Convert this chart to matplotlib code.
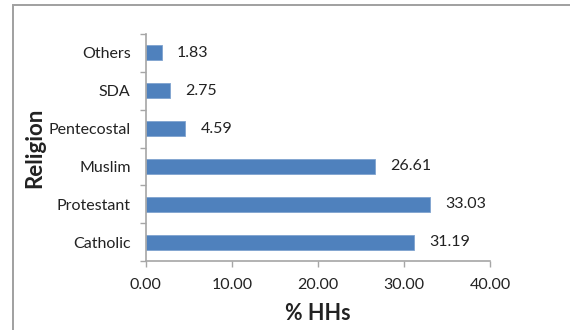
import matplotlib.pyplot as plt
from matplotlib.patches import Rectangle

religions = ['Catholic', 'Protestant', 'Muslim', 'Pentecostal', 'SDA', 'Others']
pct_hhs = [31.19, 33.03, 26.61, 4.59, 2.75, 1.83]
x_ticks = [0, 10, 20, 30, 40]

plt.rcParams['font.family'] = ['Lato', 'DejaVu Sans']
axis_grey = '#a6a6a6'
bar_blue = '#4f81bd'
text_col = '#222222'

fig = plt.figure(figsize=(5.7, 3.3), dpi=100)
ax = fig.add_axes([0.256, 0.209, 0.604, 0.688])

# chart area border, running off the right and bottom edges
fig.patches.append(Rectangle((0.0228, -0.1), 1.2, 1.085, transform=fig.transFigure,
                             fill=False, edgecolor='#a0a0a0', linewidth=1.4))

y = range(len(religions))
ax.barh(y, pct_hhs, height=0.4, color=bar_blue, edgecolor='#7fa3cf', linewidth=0.6)

for yi, v in zip(y, pct_hhs):
    ax.annotate(f'{v:.2f}', (v, yi), xytext=(11, 0), textcoords='offset points',
                va='center', ha='left', fontsize=11.5, color=text_col)

ax.set_xlim(0, 40)
ax.set_ylim(-0.5, len(religions) - 0.5)
ax.set_xticks(x_ticks)
ax.set_xticklabels([f'{t:.2f}' for t in x_ticks])
ax.set_yticks(y)
ax.set_yticklabels(religions)
ax.set_yticks([i - 0.5 for i in range(len(religions) + 1)], minor=True)

ax.tick_params(axis='y', which='major', length=0, pad=11, labelsize=11.5, labelcolor=text_col)
ax.tick_params(axis='y', which='minor', length=4, width=1, color=axis_grey, direction='out')
ax.tick_params(axis='x', length=4, width=1, color=axis_grey, direction='out',
               pad=8, labelsize=11.5, labelcolor=text_col)

for side in ['top', 'right']:
    ax.spines[side].set_visible(False)
for side in ['left', 'bottom']:
    ax.spines[side].set_color(axis_grey)
    ax.spines[side].set_linewidth(1.2)

ax.set_xlabel('% HHs', fontsize=15.5, fontweight='bold', labelpad=8, color=text_col)
ax.set_ylabel('Religion', fontsize=16, fontweight='bold', labelpad=2, color=text_col)

fig.savefig('out.png', dpi=100)
